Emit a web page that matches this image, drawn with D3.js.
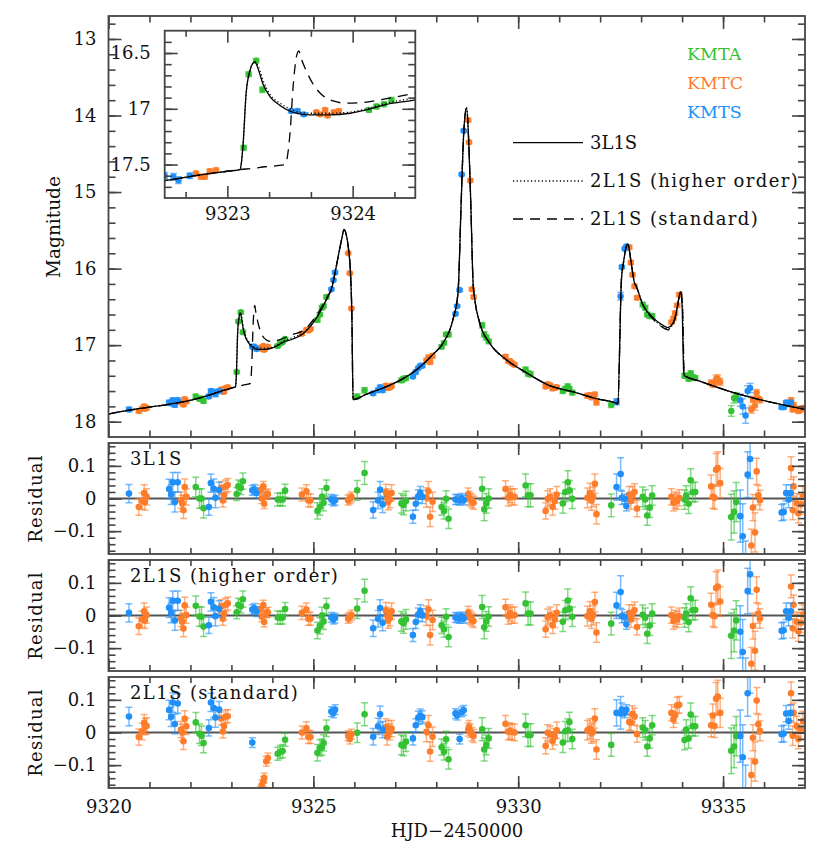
<!DOCTYPE html>
<html>
<head>
<meta charset="utf-8">
<script src="https://cdn.jsdelivr.net/npm/d3@7"></script>
<style>
body { margin: 0; background: #fff; }
svg text { font-family: "DejaVu Serif", serif; }
</style>
</head>
<body>
<div id="chart"></div>
<script>
// ---- tick labels ----
var xMajor = [9320, 9325, 9330, 9335];
var magMajor = [13, 14, 15, 16, 17, 18];
var resMajor = [-0.1, 0, 0.1];
var insetXMajor = [9323, 9324];
var insetXMinor = [9322.6667, 9323.3333, 9323.6667, 9324.3333];
var insetMagMajor = [16.5, 17, 17.5];
var panelNames = ['3L1S', '2L1S (higher order)', '2L1S (standard)'];

// ---- model light curves [HJD', mag] ----
var model3L1S = [[9320.00,17.90],[9320.50,17.85],[9321.00,17.81],[9321.50,17.77],[9322.00,17.72],[9322.50,17.645],[9322.80,17.59],[9323.00,17.56],[9323.10,17.545],
  [9323.11,17.50],[9323.125,17.33],[9323.15,16.86],[9323.18,16.66],[9323.205,16.59],[9323.22,16.58],[9323.245,16.64],[9323.285,16.78],[9323.34,16.89],[9323.42,16.97],[9323.52,17.03],[9323.66,17.055],[9323.82,17.055],[9323.98,17.04],[9324.11,17.01],[9324.27,16.96],[9324.50,16.92],[9324.75,16.85],[9325.08,16.64],[9325.36,16.36],[9325.44,16.27],[9325.56,15.97],[9325.69,15.62],[9325.75,15.49],[9325.80,15.55],[9325.85,15.71],[9325.91,16.10],[9325.94,16.60],[9325.97,17.71],
  [9326.30,17.64],[9326.70,17.56],[9327.11,17.46],[9327.52,17.32],[9327.92,17.12],[9328.17,16.97],[9328.41,16.66],[9328.53,16.32],[9328.61,15.10],[9328.67,14.23],[9328.74,13.90],[9328.79,14.31],[9328.84,15.10],[9328.90,16.20],[9328.94,16.40],[9329.06,16.71],[9329.30,16.97],[9329.71,17.19],[9330.20,17.36],[9330.77,17.53],[9331.34,17.61],[9331.91,17.70],[9332.40,17.76],[9332.43,17.77],
  [9332.52,16.14],[9332.57,15.92],[9332.64,15.71],[9332.68,15.68],[9332.74,15.86],[9332.84,16.19],[9332.88,16.23],[9333.04,16.47],[9333.29,16.64],[9333.53,16.74],[9333.65,16.77],[9333.78,16.71],[9333.87,16.54],[9333.93,16.36],[9333.96,16.30],[9334.00,16.49],[9334.04,17.36],[9334.06,17.40],[9334.43,17.47],[9335.08,17.59],[9335.73,17.69],[9336.38,17.77],[9337.00,17.84]];

var modelHigher = [[9320.00,17.90],[9320.50,17.85],[9321.00,17.81],[9321.50,17.77],[9322.00,17.72],[9322.50,17.645],[9322.80,17.59],[9323.00,17.56],[9323.10,17.545],
  [9323.11,17.50],[9323.125,17.33],[9323.15,16.86],[9323.18,16.66],[9323.205,16.59],[9323.22,16.58],[9323.25,16.63],[9323.29,16.76],[9323.34,16.87],[9323.42,16.95],[9323.52,17.01],[9323.66,17.04],[9323.82,17.04],[9323.98,17.03],[9324.11,17.00],[9324.27,16.95],[9324.50,16.90],[9324.75,16.84],[9325.08,16.64],[9325.36,16.36],[9325.44,16.27],[9325.56,15.97],[9325.69,15.62],[9325.75,15.49],[9325.80,15.55],[9325.85,15.71],[9325.91,16.10],[9325.94,16.60],[9325.97,17.71],
  [9326.30,17.64],[9326.70,17.56],[9327.11,17.46],[9327.52,17.32],[9327.92,17.12],[9328.17,16.97],[9328.41,16.66],[9328.53,16.32],[9328.61,15.10],[9328.67,14.23],[9328.74,13.90],[9328.79,14.31],[9328.84,15.10],[9328.90,16.20],[9328.94,16.40],[9329.06,16.71],[9329.30,16.97],[9329.71,17.19],[9330.20,17.36],[9330.77,17.53],[9331.34,17.61],[9331.91,17.70],[9332.40,17.76],[9332.43,17.77],
  [9332.52,16.14],[9332.57,15.92],[9332.64,15.71],[9332.68,15.68],[9332.74,15.86],[9332.84,16.19],[9332.88,16.23],[9333.04,16.47],[9333.29,16.65],[9333.53,16.76],[9333.65,16.79],[9333.78,16.72],[9333.87,16.55],[9333.93,16.37],[9333.97,16.30],[9334.01,16.48],[9334.05,17.36],[9334.07,17.40],[9334.43,17.47],[9335.08,17.59],[9335.73,17.69],[9336.38,17.77],[9337.00,17.84]];

var modelStd = [[9320.00,17.90],[9320.50,17.85],[9321.00,17.81],[9321.50,17.77],[9322.00,17.72],[9322.50,17.645],[9322.80,17.59],[9323.00,17.56],[9323.10,17.545],
  [9323.20,17.535],[9323.30,17.52],[9323.40,17.51],[9323.46,17.50],[9323.50,17.22],[9323.525,16.80],[9323.55,16.54],[9323.57,16.48],[9323.59,16.55],[9323.63,16.66],[9323.685,16.78],[9323.75,16.87],[9323.845,16.93],[9323.95,16.95],[9324.11,16.94],[9324.27,16.91],[9324.50,16.86],[9324.75,16.81],[9325.08,16.61],[9325.36,16.35],[9325.44,16.27],[9325.56,15.97],[9325.69,15.62],[9325.75,15.49],[9325.80,15.55],[9325.85,15.71],[9325.91,16.10],[9325.94,16.60],[9325.97,17.71],
  [9326.30,17.64],[9326.70,17.56],[9327.11,17.46],[9327.52,17.32],[9327.92,17.12],[9328.17,16.97],[9328.41,16.66],[9328.53,16.32],[9328.61,15.10],[9328.67,14.23],[9328.74,13.90],[9328.79,14.31],[9328.84,15.10],[9328.90,16.20],[9328.94,16.40],[9329.06,16.71],[9329.30,16.97],[9329.71,17.19],[9330.20,17.36],[9330.77,17.53],[9331.34,17.61],[9331.91,17.70],[9332.40,17.76],[9332.43,17.77],
  [9332.52,16.14],[9332.57,15.92],[9332.64,15.71],[9332.68,15.68],[9332.74,15.86],[9332.84,16.19],[9332.88,16.23],[9333.04,16.47],[9333.29,16.66],[9333.53,16.77],[9333.65,16.80],[9333.78,16.73],[9333.87,16.55],[9333.93,16.37],[9333.97,16.30],[9334.01,16.48],[9334.05,17.36],[9334.07,17.40],[9334.43,17.47],[9335.08,17.59],[9335.73,17.69],[9336.38,17.77],[9337.00,17.84]];

// ---- KMTA ----
var kmtaT = [9322.13,9322.22,9322.27,9322.32, 9323.13,9323.17,9323.23,9323.28, 9324.13,9324.19,9324.25,9324.31, 9325.10,9325.16,9325.21,9325.25,9325.32, 9326.07,9326.25, 9327.15,9327.20,9327.26, 9328.13,9328.19,9328.24,9328.30, 9329.12,9329.17,9329.22,9329.28, 9330.18,9330.24,9330.30, 9331.09,9331.15,9331.21,9331.25,9331.32, 9332.27, 9333.04,9333.10,9333.15,9333.21,9333.27, 9334.06,9334.10,9334.16,9334.21,9334.26,9334.32, 9335.20,9335.27,9335.32];
var kmtaMag = [17.67,17.70,17.70,17.73, 17.35,16.69,16.57,16.83, 17.01,16.98,16.96,16.92, 16.67,16.60,16.51,16.49,16.37, 17.67,17.59, 17.46,17.44,17.43, 17.02,16.97,16.86,16.86, 16.74,16.86,16.90,16.95, 17.32,17.37,17.38, 17.60,17.57,17.54,17.57,17.62, 17.78, 16.47,16.51,16.60,16.62,16.62, 17.40,17.40,17.44,17.37,17.42,17.43, 17.86,17.69,17.68];
var kmtaErr = [0.03,0.03,0.03,0.03, 0.02,0.02,0.02,0.025, 0.02,0.02,0.02,0.02, 0.025,0.025,0.025,0.025,0.025, 0.03,0.035, 0.03,0.03,0.03, 0.025,0.025,0.025,0.03, 0.035,0.035,0.03,0.03, 0.035,0.035,0.035, 0.03,0.03,0.035,0.03,0.03, 0.035, 0.03,0.03,0.03,0.03,0.03, 0.03,0.03,0.03,0.035,0.03,0.03, 0.07,0.065,0.06];
var kmtaRes3L1S = [0.035,0.0,0.0,-0.03, 0.014,0.037,0.032,0.053, -0.003,-0.003,-0.003,0.024, -0.038,-0.026,0.005,-0.013,0.032, 0.025,0.078, -0.015,-0.02,-0.008, -0.026,-0.038,-0.001,-0.062, 0.03,-0.033,-0.015,0.0, 0.04,0.01,0.01, -0.015,0.02,0.05,0.025,-0.001, -0.021, 0.005,-0.003,-0.052,-0.028,0.009, -0.003,0.009,-0.016,0.056,0.019,0.02, -0.057,-0.041,-0.011];
var kmtaResHigher = [0.03,-0.003,-0.004,-0.034, 0.01,0.033,0.028,0.05, -0.006,-0.007,-0.006,0.02, -0.046,-0.032,0.0,-0.018,0.028, 0.021,0.076, -0.018,-0.024,-0.012, -0.03,-0.042,-0.004,-0.066, 0.026,-0.036,-0.018,-0.003, 0.037,0.006,0.006, -0.019,0.016,0.046,0.021,-0.004, -0.025, 0.002,-0.007,-0.056,-0.031,0.006, -0.006,0.006,-0.02,0.053,0.016,0.017, -0.062,-0.046,-0.015];
var kmtaResStd = [0.031,-0.004,-0.01,-0.032, 0.3,0.85,0.95,0.7, -0.065,-0.06,-0.057,-0.022, -0.062,-0.047,-0.045,-0.032,0.013, -0.001,0.056, -0.038,-0.041,-0.028, -0.045,-0.059,-0.021,-0.082, 0.01,-0.052,-0.038,-0.018, 0.022,-0.008,-0.008, -0.031,0.004,0.007,0.032,-0.02, -0.038, 0.015,0.007,-0.043,-0.018,0.022, -0.023,0.009,-0.018,0.055,0.019,0.019, -0.056,-0.043,-0.011];

// ---- KMTC ----
var kmtcT = [9320.74,9320.82,9320.87,9320.89,9320.93, 9321.77,9321.80,9321.83,9321.86,9321.90, 9322.75,9322.79,9322.82,9322.86,9322.91, 9323.71,9323.74,9323.78,9323.80,9323.85,9323.89, 9324.72,9324.83,9324.88,9324.93, 9325.85,9325.89,9325.93, 9326.77,9326.80,9326.83,9326.87,9326.91, 9327.76,9327.81,9327.85,9327.91, 9328.78,9328.80,9328.83,9328.87,9328.91, 9329.69,9329.76,9329.80,9329.85,9329.91, 9330.67,9330.72,9330.78,9330.84,9330.89,9330.94, 9331.69,9331.75,9331.79,9331.83,9331.87,9331.91, 9332.71,9332.75,9332.79,9332.84,9332.90, 9333.74,9333.79,9333.83,9333.88,9333.93, 9334.71,9334.75,9334.79,9334.83,9334.87,9334.93, 9335.69,9335.73,9335.78,9335.82,9335.86,9335.90, 9336.66,9336.70,9336.72,9336.80,9336.84,9336.90,9336.95];
var kmtcMag = [17.86,17.83,17.80,17.83,17.82, 17.745,17.755,17.775,17.705,17.735, 17.58,17.61,17.61,17.56,17.55, 17.03,17.05,17.01,17.06,17.03,17.02, 16.85,16.80,16.81,16.79, 15.80,16.06,16.52, 17.53,17.545,17.56,17.55,17.53, 17.20,17.16,17.22,17.14, 14.06,14.35,14.85,16.27,16.37, 17.15,17.21,17.21,17.235,17.255, 17.54,17.51,17.525,17.565,17.56,17.55, 17.66,17.655,17.68,17.675,17.645,17.75, 15.72,15.92,16.08,16.23,16.38, 16.70,16.65,16.58,16.48,16.34, 17.49,17.51,17.51,17.44,17.44,17.48, 17.84,17.71,17.79,17.62,17.70,17.72, 17.72,17.84,17.78,17.83,17.86,17.84,17.82];
var kmtcErr = [0.025,0.025,0.025,0.025,0.025, 0.025,0.025,0.025,0.025,0.025, 0.02,0.02,0.02,0.02,0.02, 0.015,0.015,0.015,0.015,0.015,0.015, 0.02,0.02,0.02,0.02, 0.015,0.015,0.015, 0.025,0.025,0.025,0.025,0.025, 0.03,0.03,0.03,0.03, 0.02,0.02,0.02,0.02,0.02, 0.025,0.025,0.025,0.025,0.025, 0.025,0.025,0.025,0.025,0.025,0.025, 0.03,0.03,0.03,0.03,0.03,0.03, 0.025,0.025,0.025,0.025,0.025, 0.025,0.025,0.025,0.025,0.025, 0.035,0.035,0.035,0.05,0.05,0.045, 0.05,0.04,0.06,0.04,0.03,0.03, 0.035,0.03,0.03,0.03,0.03,0.03,0.03];
var kmtcRes3L1S = [-0.026,-0.008,0.017,-0.011,0.005, -0.005,-0.015,-0.036,0.035,0.005, 0.032,-0.006,0.01,0.037,0.041, 0.025,0.0,0.037,-0.016,0.012,0.014, 0.012,0.022,-0.006,-0.006, -0.005,-0.001,0.005, 0.019,0.005,-0.01,-0.003,0.017, 0.003,0.022,-0.056,-0.01, 0.012,0.002,-0.003,-0.008,-0.013, 0.029,0.002,0.012,0.005,0.005, -0.038,-0.001,0.005,-0.026,-0.008,0.012, 0.002,0.017,-0.006,0.005,0.045,-0.048, 0.012,-0.008,0.012,0.02,-0.031, 0.005,-0.013,-0.005,-0.008,0.002, 0.037,0.005,0.002,0.088,0.093,0.047, -0.144,-0.028,-0.104,0.083,0.01,-0.005, 0.093,-0.035,0.037,-0.015,-0.045,-0.018,0.007];
var kmtcResHigher = [-0.033,-0.012,0.013,-0.015,0.001, -0.009,-0.019,-0.04,0.031,0.001, 0.028,-0.01,0.006,0.033,0.037, 0.02,-0.004,0.032,-0.02,0.008,0.01, 0.008,0.018,-0.01,-0.01, -0.009,-0.005,0.001, 0.015,0.001,-0.014,-0.007,0.013, -0.001,0.018,-0.06,-0.014, 0.008,-0.002,-0.007,-0.012,-0.017, 0.025,-0.002,0.008,0.001,0.001, -0.042,-0.005,0.001,-0.03,-0.012,0.008, -0.002,0.013,-0.01,0.001,0.041,-0.052, 0.008,-0.012,0.008,0.016,-0.035, 0.001,-0.017,-0.009,-0.012,-0.002, 0.033,0.001,-0.002,0.084,0.089,0.043, -0.148,-0.032,-0.108,0.079,0.006,-0.009, 0.089,-0.039,0.033,-0.019,-0.049,-0.022,0.003];
var kmtcResStd = [-0.014,0.003,0.03,0.018,0.02, 0.009,0.0,-0.027,0.042,0.019, 0.043,0.003,0.02,0.049,0.05, -0.18,-0.161,-0.15,-0.139,-0.088,-0.078, 0.0,0.013,-0.014,-0.014, -0.01,-0.02,-0.005, 0.017,-0.013,0.012,0.002,0.012, 0.002,0.022,-0.058,-0.013, 0.009,0.017,0.005,-0.005,-0.011, 0.027,0.002,0.005,0.002,0.0, -0.041,-0.001,-0.005,-0.026,-0.013,0.007, 0.007,0.012,-0.003,0.002,0.043,-0.052, 0.032,0.03,0.057,0.049,-0.005, 0.06,0.04,0.053,0.083,0.085, 0.022,0.052,0.02,0.103,0.11,0.06, -0.13,-0.016,-0.089,0.098,0.025,0.005, 0.12,-0.01,0.06,0.02,-0.02,0.01,0.035];

// ---- KMTS ----
var kmtsT = [9320.50, 9321.48,9321.53,9321.57,9321.62,9321.69, 9322.45,9322.50,9322.57,9322.61,9322.70, 9323.51,9323.56,9323.61, 9325.44,9325.49,9325.53, 9326.46,9326.58,9326.63,9326.69, 9327.43,9327.50,9327.56,9327.61,9327.66, 9328.47,9328.51,9328.57,9328.62,9328.67, 9332.40,9332.50,9332.53,9332.60,9332.64, 9335.42,9335.48,9335.55,9335.60,9335.66, 9336.43,9336.48,9336.54,9336.60,9336.65];
var kmtsMag = [17.84, 17.75,17.76,17.72,17.78,17.72, 17.67,17.60,17.61,17.64,17.60, 17.02,17.02,17.05, 16.27,16.15,16.05, 17.63,17.59,17.55,17.59, 17.41,17.35,17.30,17.27,17.27, 16.59,16.49,16.28,14.77,14.20, 17.74,16.36,15.98,15.74,15.71, 17.72,17.80,17.92,17.60,17.56, 17.81,17.81,17.75,17.77,17.75];
var kmtsErr = [0.028, 0.03,0.03,0.03,0.03,0.03, 0.025,0.028,0.03,0.03,0.025, 0.015,0.015,0.015, 0.015,0.015,0.015, 0.025,0.025,0.025,0.025, 0.02,0.02,0.02,0.02,0.02, 0.015,0.015,0.015,0.015,0.015, 0.04,0.05,0.02,0.015,0.015, 0.08,0.1,0.1,0.07,0.06, 0.025,0.025,0.025,0.025,0.025];
var kmtsRes3L1S = [0.015, 0.029,0.012,0.05,-0.011,0.05, -0.026,0.047,0.03,0.002,0.025, 0.025,0.028,0.017, -0.003,-0.008,-0.005, -0.035,-0.006,0.027,-0.018, -0.056,-0.016,0.007,0.017,0.005, -0.003,-0.003,-0.005,0.0,-0.005, 0.035,0.075,0.002,-0.001,-0.023, -0.054,-0.116,-0.23,0.073,0.121, -0.043,-0.041,0.017,-0.003,0.017];
var kmtsResHigher = [0.008, 0.024,0.008,0.045,-0.015,0.045, -0.03,0.042,0.025,-0.002,0.02, 0.018,0.022,0.012, -0.006,-0.011,-0.008, -0.039,-0.01,0.023,-0.022, -0.06,-0.02,0.003,0.013,0.001, -0.006,-0.007,-0.009,-0.004,-0.009, 0.031,0.072,-0.002,-0.005,-0.027, -0.05,-0.112,-0.23,0.075,0.126, -0.047,-0.045,0.013,-0.007,0.013];
var kmtsResStd = [0.049, 0.069,0.048,0.092,0.026,0.089, 0.014,0.092,0.075,0.046,0.07, -0.031,-0.5,-0.5, 0.064,0.06,0.07, -0.013,0.019,0.056,0.009, -0.018,0.022,0.045,0.052,0.047, 0.058,0.053,-0.02,0.063,0.068, 0.06,0.06,0.07,0.06,0.07, -0.011,-0.076,-0.2,0.12,0.18, -0.005,-0.003,0.058,0.035,0.06];

var sets = [
  {name: 'KMTA', color: '#34c234', t: kmtaT, mag: kmtaMag, err: kmtaErr, res: [kmtaRes3L1S, kmtaResHigher, kmtaResStd]},
  {name: 'KMTC', color: '#fd7d2b', t: kmtcT, mag: kmtcMag, err: kmtcErr, res: [kmtcRes3L1S, kmtcResHigher, kmtcResStd]},
  {name: 'KMTS', color: '#2090f8', t: kmtsT, mag: kmtsMag, err: kmtsErr, res: [kmtsRes3L1S, kmtsResHigher, kmtsResStd]}
];
var models = [
  {data: model3L1S, dash: null},
  {data: modelHigher, dash: '1.2,2.4'},
  {data: modelStd, dash: '10,7'}
];

var width = 830;
var height = 848;
var frameColor = '#444';

var svg = d3.select('#chart')
  .append('svg')
  .attr('width', width)
  .attr('height', height);

var x = d3.scaleLinear().domain([9320, 9337]).range([108.5, 805]);
var yMain = d3.scaleLinear().domain([12.7, 18.2]).range([16, 437]);
var resTops = [443, 560, 677];
var resH = 111;

var clipN = 0;
function addClip(xs, ys) {
  var id = 'clip' + (clipN++);
  var yr = ys.range();
  svg.append('clipPath').attr('id', id)
    .append('rect')
    .attr('x', xs.range()[0]).attr('y', Math.min(yr[0], yr[1]))
    .attr('width', xs.range()[1] - xs.range()[0])
    .attr('height', Math.abs(yr[1] - yr[0]));
  return 'url(#' + id + ')';
}

function styleAxis(g) {
  g.select('.domain').remove();
  g.selectAll('line').attr('stroke', frameColor).attr('stroke-width', 1.6);
  g.attr('font-family', '"DejaVu Serif", serif').attr('font-size', 18);
  g.selectAll('text').attr('fill', '#111');
}

// frame with inward ticks on all four sides
function drawFrame(xs, ys, o) {
  var yr = ys.range();
  var top = Math.min(yr[0], yr[1]);
  var bottom = Math.max(yr[0], yr[1]);
  var left = xs.range()[0];
  var right = xs.range()[1];
  var g = svg.append('g');
  var bx = g.append('g').attr('transform', 'translate(0,' + bottom + ')');
  bx.append('g').call(d3.axisBottom(xs).tickValues(o.xMajor).tickSize(-o.xMajLen)
    .tickPadding(o.xPad || 12).tickFormat(o.xLabels ? d3.format('d') : '')).call(styleAxis);
  bx.append('g').call(d3.axisBottom(xs).tickValues(o.xMinor).tickSize(-o.xMajLen / 2).tickFormat('')).call(styleAxis);
  var tx = g.append('g').attr('transform', 'translate(0,' + top + ')');
  tx.append('g').call(d3.axisTop(xs).tickValues(o.xMajor).tickSize(-o.xMajLen).tickFormat('')).call(styleAxis);
  tx.append('g').call(d3.axisTop(xs).tickValues(o.xMinor).tickSize(-o.xMajLen / 2).tickFormat('')).call(styleAxis);
  var ly = g.append('g').attr('transform', 'translate(' + left + ',0)');
  ly.append('g').call(d3.axisLeft(ys).tickValues(o.yMajor).tickSize(-13)
    .tickPadding(o.yPad || 12).tickFormat(o.yFormat)).call(styleAxis);
  ly.append('g').call(d3.axisLeft(ys).tickValues(o.yMinor).tickSize(-7).tickFormat('')).call(styleAxis);
  var ry = g.append('g').attr('transform', 'translate(' + right + ',0)');
  ry.append('g').call(d3.axisRight(ys).tickValues(o.yMajor).tickSize(-13).tickFormat('')).call(styleAxis);
  ry.append('g').call(d3.axisRight(ys).tickValues(o.yMinor).tickSize(-7).tickFormat('')).call(styleAxis);
  g.append('rect')
    .attr('x', left).attr('y', top)
    .attr('width', right - left).attr('height', bottom - top)
    .attr('fill', 'none').attr('stroke', frameColor).attr('stroke-width', 1.8);
}

function drawPoints(parent, xs, ys, which, r) {
  sets.forEach(function(s) {
    var vals = which < 0 ? s.mag : s.res[which];
    var rows = s.t.map(function(t, i) { return {t: t, v: vals[i], e: s.err[i]}; });
    var g = parent.append('g');
    var bars = g.append('g')
      .attr('stroke', s.color).attr('stroke-opacity', 0.6).attr('stroke-width', 1.5);
    bars.selectAll('line.v').data(rows).enter().append('line')
      .attr('x1', function(d) { return xs(d.t); }).attr('x2', function(d) { return xs(d.t); })
      .attr('y1', function(d) { return ys(d.v - d.e); }).attr('y2', function(d) { return ys(d.v + d.e); });
    bars.selectAll('line.lo').data(rows).enter().append('line')
      .attr('x1', function(d) { return xs(d.t) - 3.5; }).attr('x2', function(d) { return xs(d.t) + 3.5; })
      .attr('y1', function(d) { return ys(d.v - d.e); }).attr('y2', function(d) { return ys(d.v - d.e); });
    bars.selectAll('line.hi').data(rows).enter().append('line')
      .attr('x1', function(d) { return xs(d.t) - 3.5; }).attr('x2', function(d) { return xs(d.t) + 3.5; })
      .attr('y1', function(d) { return ys(d.v + d.e); }).attr('y2', function(d) { return ys(d.v + d.e); });
    g.selectAll('circle').data(rows).enter().append('circle')
      .attr('cx', function(d) { return xs(d.t); })
      .attr('cy', function(d) { return ys(d.v); })
      .attr('r', r)
      .attr('fill', s.color);
  });
}

function drawModels(parent, xs, ys) {
  var line = d3.line()
    .x(function(d) { return xs(d[0]); })
    .y(function(d) { return ys(d[1]); })
    .curve(d3.curveMonotoneX);
  models.slice().reverse().forEach(function(m) {
    parent.append('path')
      .attr('d', line(m.data))
      .attr('fill', 'none')
      .attr('stroke', '#000')
      .attr('stroke-width', 1.3)
      .attr('stroke-dasharray', m.dash);
  });
}

// ---- main panel ----
var mainG = svg.append('g').attr('clip-path', addClip(x, yMain));
drawPoints(mainG, x, yMain, -1, 3.2);
drawModels(mainG, x, yMain);
drawFrame(x, yMain, {
  xMajor: xMajor, xMinor: d3.range(9321, 9337), xMajLen: 13, xLabels: false,
  yMajor: magMajor, yMinor: d3.range(64, 91).map(function(k) { return k / 5; }),
  yFormat: d3.format('d')
});
svg.append('text')
  .attr('transform', 'translate(60,227) rotate(-90)')
  .attr('text-anchor', 'middle')
  .attr('font-size', 18.5)
  .attr('fill', '#111')
  .text('Magnitude');

// ---- inset ----
var xIn = d3.scaleLinear().domain([9322.5, 9324.5]).range([164.7, 415.3]);
var yIn = d3.scaleLinear().domain([16.3, 17.8]).range([30.7, 198]);
svg.append('rect').attr('x', 164.7).attr('y', 30.7).attr('width', 250.6).attr('height', 167.3).attr('fill', '#fff');
var inG = svg.append('g').attr('clip-path', addClip(xIn, yIn));
drawPoints(inG, xIn, yIn, -1, 3.2);
drawModels(inG, xIn, yIn);
drawFrame(xIn, yIn, {
  xMajor: insetXMajor, xMinor: insetXMinor, xMajLen: 12, xLabels: true, xPad: 9,
  yMajor: insetMagMajor, yMinor: d3.range(164, 178).map(function(k) { return k / 10; }),
  yFormat: function(d) { return String(d); }, yPad: 14
});

// ---- legend ----
var legend = svg.append('g').attr('font-size', 18);
sets.forEach(function(s, i) {
  legend.append('text')
    .attr('x', 687).attr('y', 60 + i * 29.2)
    .attr('fill', s.color)
    .attr('font-size', 17.5)
    .text(s.name);
});
var legendY = [142.7, 181, 219];
models.forEach(function(m, i) {
  legend.append('line')
    .attr('x1', 513).attr('x2', 583)
    .attr('y1', legendY[i]).attr('y2', legendY[i])
    .attr('stroke', '#000').attr('stroke-width', 1.3)
    .attr('stroke-dasharray', m.dash);
  legend.append('text')
    .attr('x', 590).attr('y', legendY[i] + 5.8)
    .attr('fill', '#111')
    .attr('letter-spacing', i === 0 ? 0 : 1.4)
    .text(panelNames[i]);
});

// ---- residual panels ----
resTops.forEach(function(top, k) {
  var yRes = d3.scaleLinear().domain([-0.17, 0.17]).range([top + resH, top]);
  var g = svg.append('g').attr('clip-path', addClip(x, yRes));
  g.append('line')
    .attr('x1', x.range()[0]).attr('x2', x.range()[1])
    .attr('y1', yRes(0)).attr('y2', yRes(0))
    .attr('stroke', '#555').attr('stroke-width', 2);
  drawPoints(g, x, yRes, k, 3.3);
  drawFrame(x, yRes, {
    xMajor: xMajor, xMinor: d3.range(9321, 9337), xMajLen: 12, xLabels: k === 2,
    yMajor: resMajor, yMinor: d3.range(-8, 9).map(function(j) { return j * 0.02; }),
    yFormat: function(d) { return d === 0 ? '0' : d3.format('.1f')(d); }
  });
  svg.append('text')
    .attr('x', 130).attr('y', top + 21.5)
    .attr('font-size', 18)
    .attr('fill', '#111')
    .attr('letter-spacing', 1.4)
    .text(panelNames[k]);
  svg.append('text')
    .attr('transform', 'translate(41.5,' + (top + resH / 2) + ') rotate(-90)')
    .attr('text-anchor', 'middle')
    .attr('font-size', 18)
    .attr('letter-spacing', 1.2)
    .attr('fill', '#111')
    .text('Residual');
});

svg.append('text')
  .attr('x', 457).attr('y', 837)
  .attr('text-anchor', 'middle')
  .attr('font-size', 18)
  .attr('fill', '#111')
  .text('HJD\u22122450000');
</script>
</body>
</html>
